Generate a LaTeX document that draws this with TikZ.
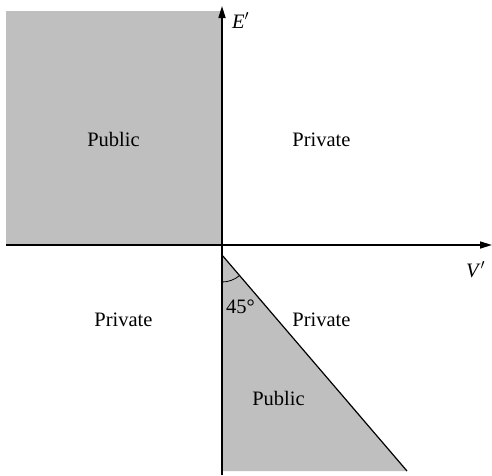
\documentclass[tikz,border=0pt]{standalone}
\usepackage{fontspec}
\setmainfont{Liberation Serif}
\usetikzlibrary{arrows.meta}
\tikzset{
  region/.style={fill=black!25, draw=none},
  axis/.style={line width=1.6pt, -{Triangle[length=12pt,width=7pt]}},
  lbl/.style={anchor=base, inner sep=0pt, font=\fontsize{20.5}{24}\selectfont},
}
\begin{document}
\begin{tikzpicture}[x=1pt,y=-1pt]
\useasboundingbox (0,0) rectangle (492,475);
% shaded regions
\fill[region] (6,11) rectangle (222,245);
\coordinate (apex) at (222,255);
\coordinate (bl) at (222,471);
\coordinate (br) at (407,471);
\fill[region] (apex) -- (bl) -- (br) -- cycle;
\draw[line width=1.2pt] (apex) -- (br);
% angle arc
\draw[line width=0.8pt] (222,282) arc[start angle=90, end angle=49.4, radius=27];
% axes
\coordinate (xs) at (6,245);
\coordinate (xe) at (492,245);
\coordinate (ys) at (222,475);
\coordinate (ye) at (222,6);
\draw[axis] (xs) -- (xe);
\draw[axis] (ys) -- (ye);
% labels
\node[lbl, anchor=base west] (E) at (232,28) {\textit{E}$'$};
\node[lbl, anchor=base west] (V) at (466,277) {\textit{V}$'$};
\node[lbl] (pub1) at (113.5,146) {Public};
\node[lbl] (pri1) at (321.5,146) {Private};
\node[lbl] (pri2) at (123.5,326) {Private};
\node[lbl] (pri3) at (321.5,326) {Private};
\node[lbl] (pub2) at (278.5,405) {Public};
\node[lbl, anchor=base west] (ang) at (226,313) {45°};
\end{tikzpicture}
\end{document}
